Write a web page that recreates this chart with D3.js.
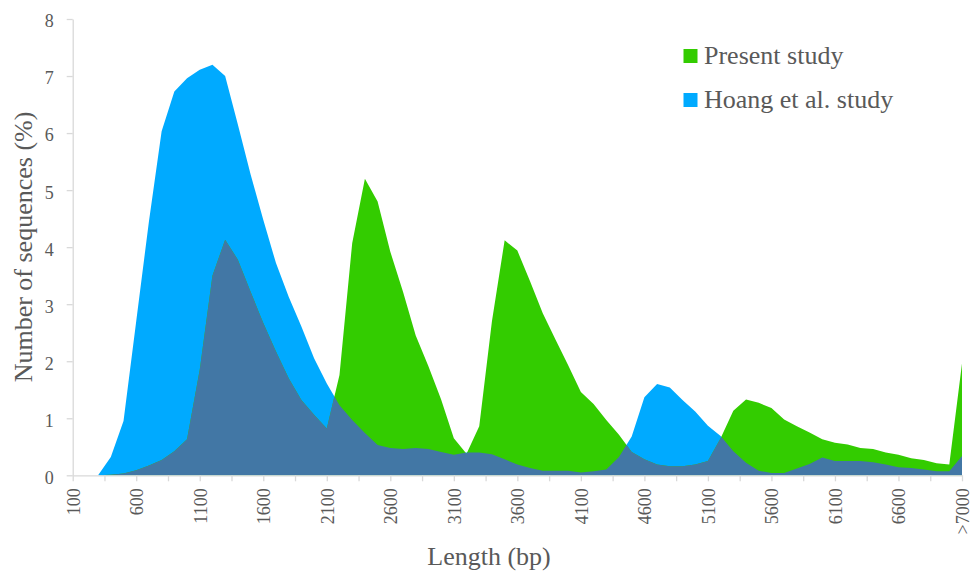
<!DOCTYPE html>
<html>
<head>
<meta charset="utf-8">
<script src="https://cdn.jsdelivr.net/npm/d3@7"></script>
<style>
  html, body { margin: 0; padding: 0; background: #ffffff; }
  svg { display: block; }
  text { font-family: "Liberation Serif", "Times New Roman", serif; fill: #595959; }
</style>
</head>
<body>
<svg id="chart" width="972" height="575"></svg>
<script>
// Length bins (bp)
const bins = [
  "100","200","300","400","500","600","700","800","900","1000",
  "1100","1200","1300","1400","1500","1600","1700","1800","1900","2000",
  "2100","2200","2300","2400","2500","2600","2700","2800","2900","3000",
  "3100","3200","3300","3400","3500","3600","3700","3800","3900","4000",
  "4100","4200","4300","4400","4500","4600","4700","4800","4900","5000",
  "5100","5200","5300","5400","5500","5600","5700","5800","5900","6000",
  "6100","6200","6300","6400","6500","6600","6700","6800","6900","7000",
  ">7000"
];

// Share of sequences per bin (%), present study
const present = [
  0, 0, 0, 0.01, 0.03, 0.09, 0.17, 0.27, 0.42, 0.63,
  1.85, 3.5, 4.13, 3.78, 3.22, 2.67, 2.17, 1.70, 1.32, 1.06,
  0.82, 1.76, 4.07, 5.2, 4.8, 3.92, 3.22, 2.45, 1.91, 1.33,
  0.65, 0.38, 0.86, 2.7, 4.12, 3.94, 3.4, 2.84, 2.38, 1.93,
  1.46, 1.25, 0.97, 0.71, 0.41, 0.28, 0.19, 0.16, 0.16, 0.19,
  0.25, 0.65, 1.13, 1.33, 1.27, 1.18, 0.98, 0.86, 0.75, 0.63,
  0.57, 0.54, 0.48, 0.46, 0.40, 0.36, 0.30, 0.27, 0.21, 0.19,
  1.96
];

// Share of sequences per bin (%), Hoang et al. study
const hoang = [
  0, 0, 0, 0.32, 0.95, 2.7, 4.45, 6.03, 6.73, 6.96,
  7.11, 7.2, 7.0, 6.15, 5.28, 4.48, 3.72, 3.13, 2.61, 2.05,
  1.61, 1.23, 0.97, 0.74, 0.53, 0.48, 0.46, 0.48, 0.46, 0.41,
  0.36, 0.40, 0.40, 0.37, 0.28, 0.19, 0.13, 0.08, 0.08, 0.08,
  0.05, 0.07, 0.10, 0.32, 0.68, 1.37, 1.6, 1.54, 1.32, 1.12,
  0.87, 0.69, 0.42, 0.22, 0.08, 0.04, 0.04, 0.12, 0.2, 0.31,
  0.25, 0.25, 0.25, 0.23, 0.19, 0.14, 0.13, 0.10, 0.07, 0.07,
  0.34
];

const yTicks = [0, 1, 2, 3, 4, 5, 6, 7, 8];
const seriesNames = ["Present study", "Hoang et al. study"];

const colors = {
  present: "#33cc00",
  hoang: "#00aaff",
  overlap: "#4277a5",
  axis: "#d9d9d9",
  text: "#595959"
};

const svg = d3.select("#chart");
const plotLeft = 72.7, plotRight = 962, plotTop = 19, plotBottom = 475.3;

const x = d3.scaleLinear().domain([0, bins.length - 1]).range([plotLeft, plotRight]);
const y = d3.scaleLinear().domain([0, 8]).range([plotBottom, plotTop]);

const area = (vals) => d3.area()
  .x((d, i) => x(i))
  .y0(y(0))
  .y1(d => y(d))(vals);

// Clip region = area of the present study, used to shade the shared part
svg.append("defs").append("clipPath").attr("id", "presentClip")
  .append("path").attr("d", area(present));

svg.append("path").attr("d", area(hoang)).attr("fill", colors.hoang);
svg.append("path").attr("d", area(present)).attr("fill", colors.present);
svg.append("path").attr("d", area(hoang)).attr("fill", colors.overlap)
  .attr("clip-path", "url(#presentClip)");

// Y axis
const yAxis = svg.append("g")
  .attr("transform", `translate(${plotLeft},0)`)
  .call(d3.axisLeft(y).tickValues(yTicks).tickSize(6).tickSizeOuter(0).tickPadding(13));
yAxis.select(".domain").attr("stroke", colors.axis).attr("stroke-width", 1.3);
yAxis.selectAll(".tick line").attr("stroke", colors.axis).attr("stroke-width", 1.3);
yAxis.selectAll(".tick text")
  .attr("font-size", 18)
  .attr("dy", "0.44em")
  .attr("fill", colors.text)
  .style("font-family", '"Liberation Serif", "Times New Roman", serif');

// X axis: labels every fifth bin, ticks every two and a half bins
const xTickVals = d3.range(0, bins.length - 1 + 0.01, 2.5);
const xAxis = svg.append("g")
  .attr("transform", `translate(0,${plotBottom})`)
  .call(d3.axisBottom(x).tickValues(xTickVals).tickSize(6).tickSizeOuter(0)
    .tickFormat(i => (Number.isInteger(i) && i % 5 === 0) ? bins[i] : ""));
xAxis.select(".domain").attr("stroke", colors.axis).attr("stroke-width", 1.3);
xAxis.selectAll(".tick line").attr("stroke", colors.axis).attr("stroke-width", 1.3);
xAxis.selectAll(".tick text")
  .attr("font-size", 18)
  .attr("fill", colors.text)
  .attr("text-anchor", "end")
  .attr("transform", "translate(6.5,13) rotate(-90)")
  .attr("x", 0).attr("y", 0).attr("dy", 0)
  .style("font-family", '"Liberation Serif", "Times New Roman", serif');

// Axis titles
svg.append("text")
  .attr("transform", "translate(31.5,247) rotate(-90)")
  .attr("text-anchor", "middle")
  .attr("font-size", 26)
  .text("Number of sequences (%)");

svg.append("text")
  .attr("x", 489).attr("y", 565)
  .attr("text-anchor", "middle")
  .attr("font-size", 26)
  .text("Length (bp)");

// Legend
const legend = svg.append("g");
const legendItems = [
  { name: seriesNames[0], color: colors.present, y: 49 },
  { name: seriesNames[1], color: colors.hoang, y: 93 }
];
legendItems.forEach(it => {
  legend.append("rect").attr("x", 683.5).attr("y", it.y).attr("width", 14).attr("height", 14)
    .attr("fill", it.color);
  legend.append("text").attr("x", 704).attr("y", it.y + 15.3)
    .attr("font-size", 26).text(it.name);
});
</script>
</body>
</html>
